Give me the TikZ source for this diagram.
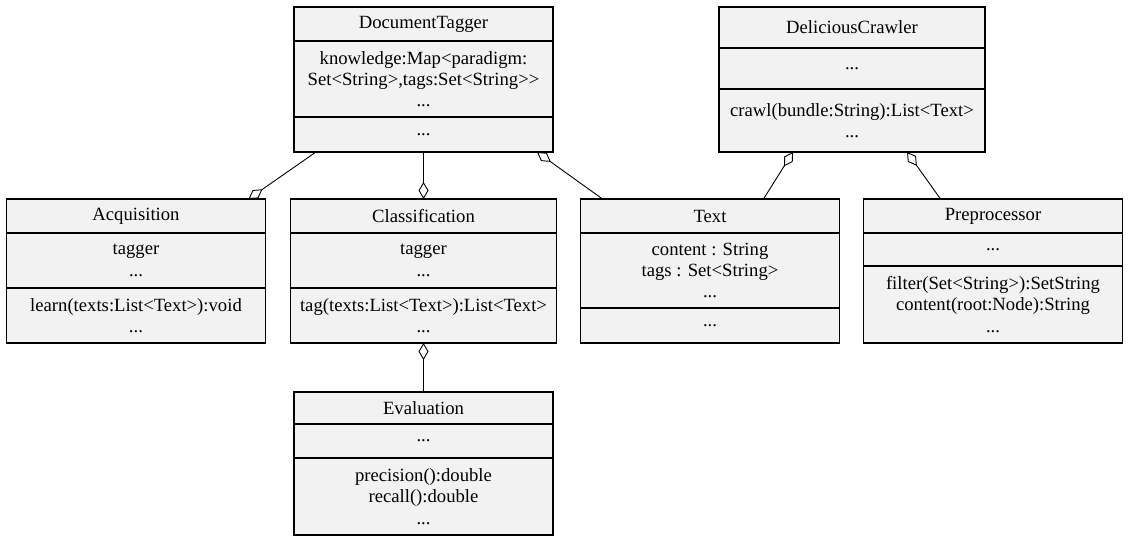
\documentclass[tikz,border=0pt]{standalone}
\usepackage{fontspec}
\setmainfont{Liberation Serif}
\usepackage{tikz}
\usetikzlibrary{arrows.meta, positioning}
\definecolor{classgray}{HTML}{F2F2F2}
\tikzset{
    classbox/.style={rectangle, draw=black, line width=1.2pt, fill=classgray, inner sep=0pt, outer sep=0pt, minimum width=259pt, align=center, font=\fontsize{18.67}{21.3}\selectfont},
    wideclass/.style={classbox, minimum width=266pt},
    aggline/.style={-{Diamond[open, length=17pt, width=10pt]}, line width=0.9pt, draw=black}
}

\begin{document}
\begin{tikzpicture}[x=1pt, y=-1pt]
        \path[use as bounding box, fill=white] (0,0) rectangle (1130,543);
        % top row
        \node[classbox, anchor=north, minimum height=34pt] (tagger) at (423.5,7) {DocumentTagger};
        \node[classbox, minimum height=76pt, below=0pt of tagger] (tagger-a) {knowledge:Map<paradigm:\\Set<String>,tags:Set<String>{}>\\...};
        \node[classbox, minimum height=35pt, below=0pt of tagger-a] (tagger-m) {...};
        \node[wideclass, anchor=north, minimum height=41pt] (crawler) at (852,7) {DeliciousCrawler};
        \node[wideclass, minimum height=41pt, below=0pt of crawler] (crawler-a) {...};
        \node[wideclass, minimum height=63pt, below=0pt of crawler-a] (crawler-m) {crawl(bundle:String):List<Text>\\...};
        % middle row
        \node[wideclass, minimum height=34pt, below=47pt of tagger-m] (classif) {Classification};
        \node[wideclass, minimum height=55pt, below=0pt of classif] (classif-a) {tagger\\...};
        \node[wideclass, minimum height=55pt, below=0pt of classif-a] (classif-m) {tag(texts:List<Text>):List<Text>\\...};
        \node[classbox, minimum height=34pt, left=25pt of classif] (acq) {Acquisition};
        \node[classbox, minimum height=55pt, below=0pt of acq] (acq-a) {tagger\\...};
        \node[classbox, minimum height=55pt, below=0pt of acq-a] (acq-m) {learn(texts:List<Text>):void\\...};
        \node[classbox, minimum height=34pt, right=24pt of classif] (text) {Text};
        \node[classbox, minimum height=75pt, below=0pt of text] (text-a) {content : String\\tags : Set<String>\\...};
        \node[classbox, minimum height=35pt, below=0pt of text-a] (text-m) {...};
        \node[classbox, minimum height=34pt, right=24pt of text] (prep) {Preprocessor};
        \node[classbox, minimum height=33pt, below=0pt of prep] (prep-a) {...};
        \node[classbox, minimum height=77pt, below=0pt of prep-a] (prep-m) {filter(Set<String>):SetString\\content(root:Node):String\\...};
        % bottom
        \node[classbox, minimum height=32pt, below=49pt of classif-m] (eval) {Evaluation};
        \node[classbox, minimum height=34pt, below=0pt of eval] (eval-a) {...};
        \node[classbox, minimum height=77pt, below=0pt of eval-a] (eval-m) {precision():double\\recall():double\\...};
        % aggregations
        \draw[aggline] ([xshift=22pt]tagger-m.south west) -- ([xshift=-17pt]acq.north east);
        \draw[aggline] (tagger-m.south) -- (classif.north);
        \draw[aggline] ([xshift=22pt]text.north west) -- ([xshift=-16pt]tagger-m.south east);
        \draw[aggline] ([xshift=-76pt]text.north east) -- ([xshift=74pt]crawler-m.south west);
        \draw[aggline] ([xshift=77pt]prep.north west) -- ([xshift=-78pt]crawler-m.south east);
        \draw[aggline] (eval.north) -- (classif-m.south);
    \end{tikzpicture}
\end{document}
